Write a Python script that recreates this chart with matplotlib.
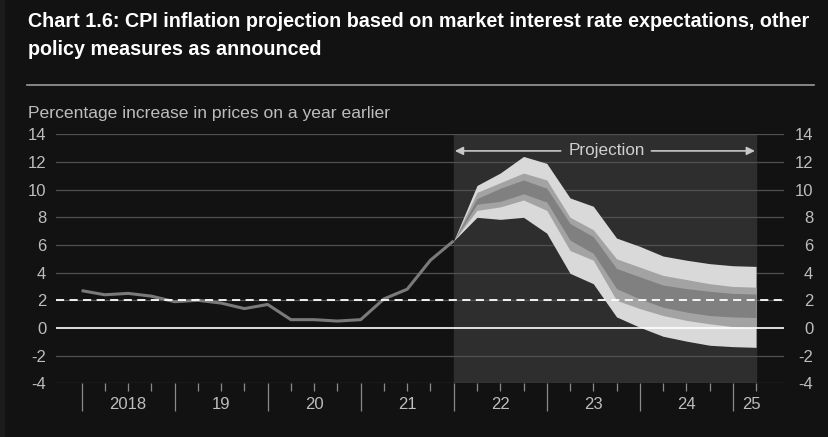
import matplotlib.pyplot as plt
import matplotlib.transforms as mtransforms
from matplotlib.patches import Rectangle

# quarters counted from 2018 Q1 = 0
hist_q = list(range(0, 17))
hist_cpi = [2.7, 2.4, 2.5, 2.3, 1.9, 2.0, 1.8, 1.4, 1.7, 0.6, 0.6, 0.5, 0.6, 2.1, 2.8, 4.9, 6.3]

fan_q = list(range(16, 30))
outer_hi = [6.3, 10.3, 11.2, 12.4, 11.9, 9.4, 8.8, 6.5, 5.9, 5.2, 4.9, 4.65, 4.5, 4.45]
mid_hi = [6.3, 9.8, 10.5, 11.2, 10.7, 8.0, 7.1, 5.0, 4.4, 3.8, 3.5, 3.2, 3.0, 2.95]
inner_hi = [6.3, 9.35, 10.1, 10.7, 10.1, 7.55, 6.6, 4.3, 3.7, 3.1, 2.85, 2.65, 2.5, 2.45]
inner_lo = [6.3, 8.95, 9.15, 9.7, 9.1, 6.35, 5.4, 2.85, 2.1, 1.5, 1.15, 0.9, 0.8, 0.75]
mid_lo = [6.3, 8.5, 8.75, 9.25, 8.5, 5.6, 4.9, 2.0, 1.4, 0.9, 0.55, 0.3, 0.1, 0.0]
outer_lo = [6.3, 8.0, 7.85, 8.0, 6.85, 3.95, 3.2, 0.8, 0.05, -0.6, -0.95, -1.25, -1.35, -1.4]

year_labels = ['2018', '19', '20', '21', '22', '23', '24', '25']
year_label_q = [2, 6, 10, 14, 18, 22, 26, 28.8]
yticks = [-4, -2, 0, 2, 4, 6, 8, 10, 12, 14]

target = 2.0
proj_start, proj_end = 16, 29

bg = '#121212'
txt = '#bdbdbd'
plt.rcParams['font.family'] = ['Liberation Sans', 'DejaVu Sans']
plt.rcParams['axes.unicode_minus'] = False

fig = plt.figure(figsize=(8.29, 4.37), dpi=100, facecolor=bg)
fig.patches.append(Rectangle((0, 0), 5 / 829, 1, transform=fig.transFigure,
                             facecolor='#1c1c1c', edgecolor='none'))

fig.text(28 / 829, 1 - 27 / 437,
         'Chart 1.6: CPI inflation projection based on market interest rate expectations, other',
         color='white', fontsize=14.2, fontweight='bold', va='baseline')
fig.text(28 / 829, 1 - 55 / 437, 'policy measures as announced',
         color='white', fontsize=14.2, fontweight='bold', va='baseline')
fig.add_artist(plt.Line2D([27 / 829, 814 / 829], [1 - 85 / 437, 1 - 85 / 437],
                          transform=fig.transFigure, color='#9a9a9a', lw=1.2))
fig.text(28 / 829, 1 - 118 / 437, 'Percentage increase in prices on a year earlier',
         color=txt, fontsize=12.6, va='baseline')

ax = fig.add_axes([56 / 829, 1 - 383.3 / 437, 728 / 829, 249 / 437])
ax.set_facecolor(bg)
ax.set_xlim(-1.1, 30.2)
ax.set_ylim(-4, 14)
for s in ax.spines.values():
    s.set_visible(False)

for y in yticks:
    if y != 0:
        ax.axhline(y, color='#505050', lw=0.9, zorder=1)

ax.axvspan(proj_start, proj_end, color='#2e2e2e', zorder=0)

ax.fill_between(fan_q, outer_lo, outer_hi, color='#d9d9d9', lw=0, zorder=2)
ax.fill_between(fan_q, mid_lo, mid_hi, color='#a3a3a3', lw=0, zorder=3)
ax.fill_between(fan_q, inner_lo, inner_hi, color='#808080', lw=0, zorder=4)

ax.plot(hist_q, hist_cpi, color='#7a7a7a', lw=2.2, zorder=5, solid_capstyle='butt')

ax.axhline(0, color='white', lw=1.2, zorder=6)
tl = ax.axhline(target, color='white', lw=1.3, zorder=6)
tl.set_dashes([4.5, 3])

# projection arrow
ax.annotate('', xy=(16.05, 12.8), xytext=(20.6, 12.8),
            arrowprops=dict(arrowstyle='-|>', color='#c8c8c8', lw=1.2,
                            mutation_scale=12, shrinkA=0, shrinkB=0), zorder=7)
ax.annotate('', xy=(28.95, 12.8), xytext=(24.5, 12.8),
            arrowprops=dict(arrowstyle='-|>', color='#c8c8c8', lw=1.2,
                            mutation_scale=12, shrinkA=0, shrinkB=0), zorder=7)
ax.text(22.57, 12.8, 'Projection', color='#d0d0d0', fontsize=12.3,
        ha='center', va='center', zorder=7)

ax.set_yticks(yticks)
ax.tick_params(axis='y', length=0, pad=7, labelsize=12, labelcolor=txt)
ax.set_xticks(list(range(0, 29, 4)))
ax.set_xticks([q for q in range(1, 30) if q % 4], minor=True)
ax.tick_params(axis='x', which='major', length=20, width=0.9, color='#8a8a8a',
               labelbottom=False)
ax.tick_params(axis='x', which='minor', length=6, width=0.9, color='#8a8a8a')

ax2 = ax.twinx()
ax2.set_ylim(-4, 14)
ax2.set_yticks(yticks)
for s in ax2.spines.values():
    s.set_visible(False)
ax2.tick_params(axis='y', length=0, pad=21, labelsize=12, labelcolor=txt)
for lab in ax2.get_yticklabels():
    lab.set_horizontalalignment('right')

trans = mtransforms.blended_transform_factory(ax.transData, ax.transAxes)
for q, lab in zip(year_label_q, year_labels):
    ax.text(q, -0.087, lab, transform=trans, color=txt, fontsize=12,
            ha='center', va='center')

fig.savefig('out.png', dpi=100, facecolor=bg)
